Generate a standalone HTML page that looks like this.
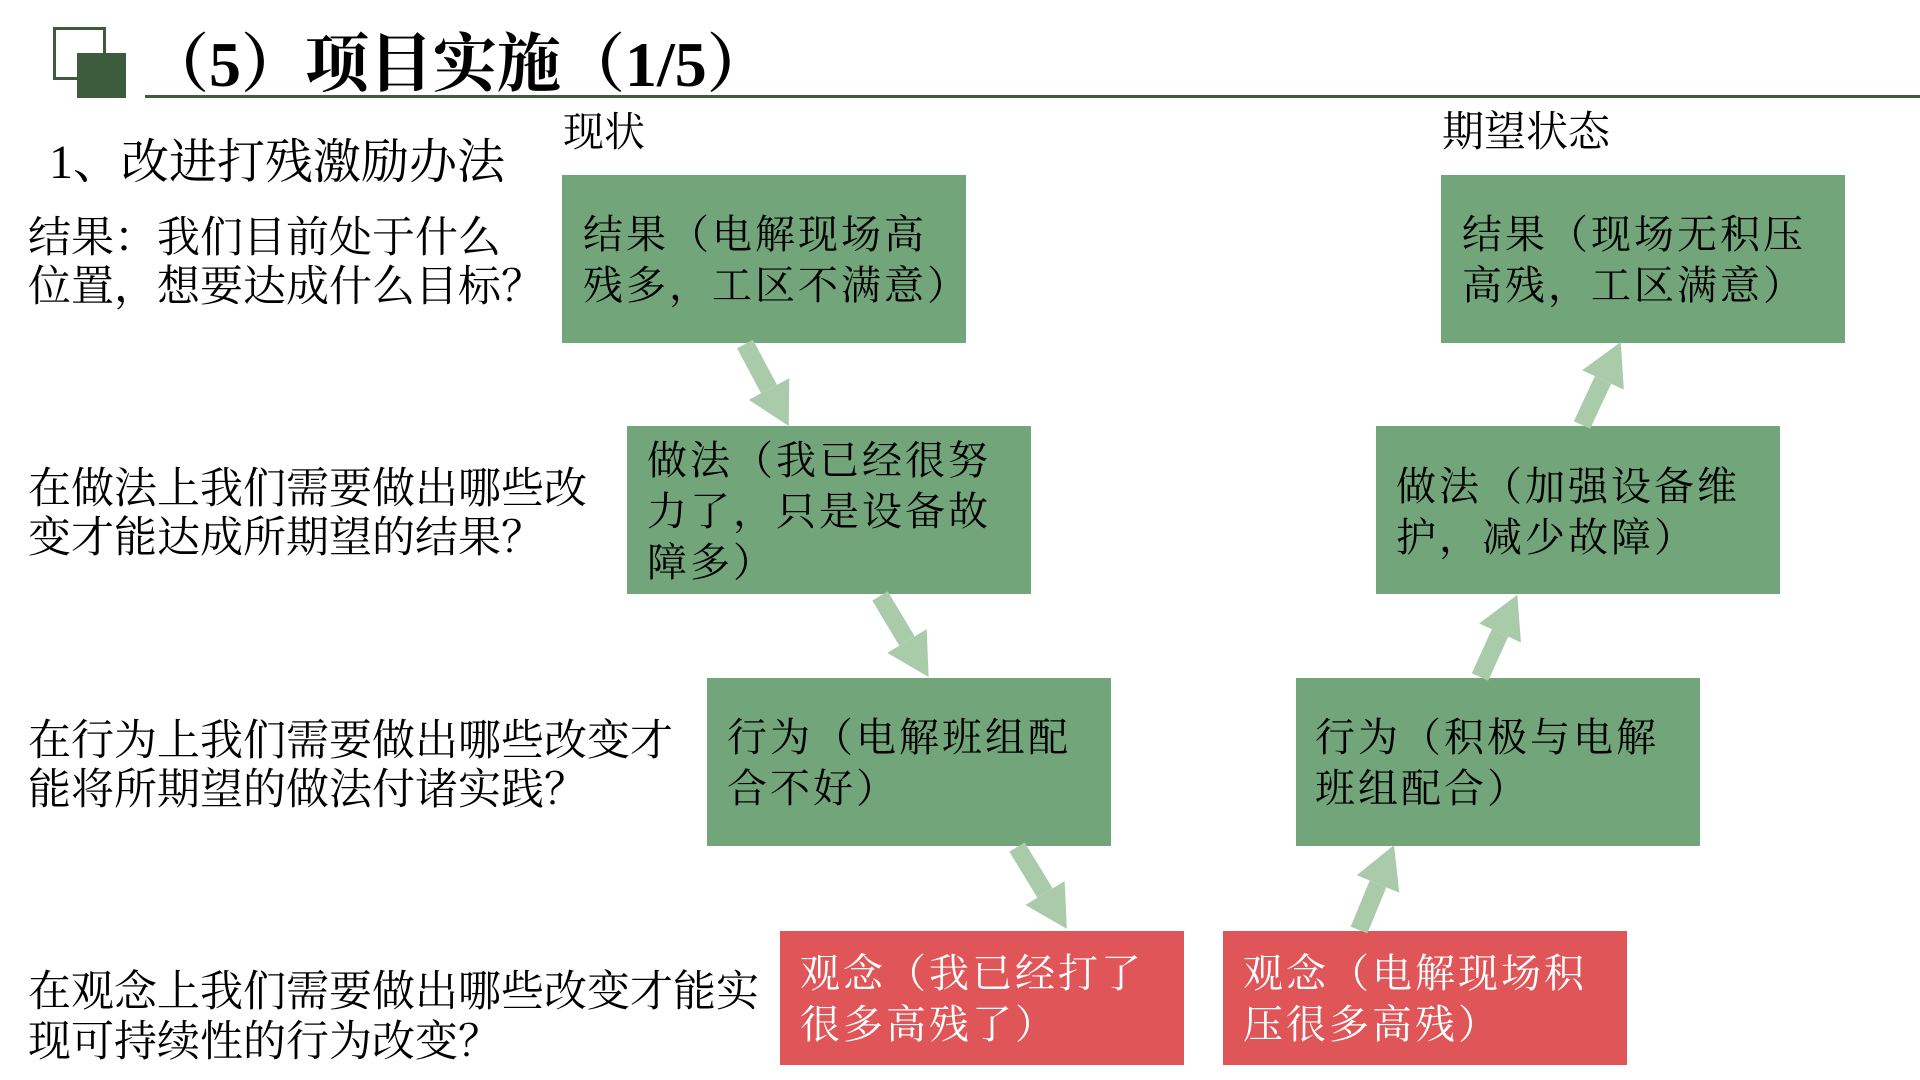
<!DOCTYPE html>
<html><head><meta charset="utf-8"><style>
body{margin:0;width:1920px;height:1080px;background:#fff;position:relative;overflow:hidden;font-family:"Liberation Serif","Noto Serif CJK SC",serif;color:#000}
.t{position:absolute;white-space:nowrap;line-height:1}
.box{position:absolute;width:404px;height:168px;background:#72a57a}
.red{background:#e05557;height:134px}
.bt{position:absolute;font-size:40px;letter-spacing:3px;line-height:51px;white-space:nowrap}
.red .bt{color:#fff}
</style></head><body>
<div style="position:absolute;left:53px;top:27px;width:53px;height:53px;border:3px solid #3d5c3d;box-sizing:border-box"></div>
<div style="position:absolute;left:77px;top:53px;width:49px;height:45px;background:#3d5c3d"></div>
<div class="t" style="left:145px;top:33px;font-size:64px;font-weight:bold">（5）项目实施（1/5）</div>
<div style="position:absolute;left:145px;top:95px;width:1775px;height:3px;background:#3d5c3d"></div>

<div class="t" style="left:49px;top:139px;font-size:48px">1、改进打残激励办法</div>
<div class="t" style="left:563px;top:112px;font-size:41px">现状</div>
<div class="t" style="left:1442px;top:112px;font-size:42px">期望状态</div>

<div class="t" style="left:28px;top:214px;font-size:43px;line-height:49px">结果：我们目前处于什么<br>位置，想要达成什么目标？</div>
<div class="t" style="left:28px;top:465px;font-size:43px;line-height:49px">在做法上我们需要做出哪些改<br>变才能达成所期望的结果？</div>
<div class="t" style="left:28px;top:717px;font-size:43px;line-height:49px">在行为上我们需要做出哪些改变才<br>能将所期望的做法付诸实践？</div>
<div class="t" style="left:28px;top:968px;font-size:43px;line-height:50px">在观念上我们需要做出哪些改变才能实<br>现可持续性的行为改变？</div>

<div class="box" style="left:562px;top:175px"><div class="bt" style="left:21px;top:34px">结果（电解现场高<br>残多，工区不满意）</div></div>
<div class="box" style="left:627px;top:426px"><div class="bt" style="left:20px;top:9px">做法（我已经很努<br>力了，只是设备故<br>障多）</div></div>
<div class="box" style="left:707px;top:678px"><div class="bt" style="left:20px;top:34px">行为（电解班组配<br>合不好）</div></div>
<div class="box red" style="left:780px;top:931px"><div class="bt" style="left:20px;top:17px">观念（我已经打了<br>很多高残了）</div></div>

<div class="box" style="left:1441px;top:175px"><div class="bt" style="left:21px;top:34px">结果（现场无积压<br>高残，工区满意）</div></div>
<div class="box" style="left:1376px;top:426px"><div class="bt" style="left:20px;top:35px">做法（加强设备维<br>护，减少故障）</div></div>
<div class="box" style="left:1296px;top:678px"><div class="bt" style="left:19px;top:34px">行为（积极与电解<br>班组配合）</div></div>
<div class="box red" style="left:1223px;top:931px"><div class="bt" style="left:20px;top:17px">观念（电解现场积<br>压很多高残）</div></div>

<svg width="1920" height="1080" style="position:absolute;left:0;top:0">
<defs><marker id="h" markerUnits="userSpaceOnUse" markerWidth="42" markerHeight="46" refX="0" refY="23" orient="auto" viewBox="0 0 42 46"><path d="M0,0 L42,23 L0,46 z" fill="#a9cbaa"/></marker></defs>
<g stroke="#a9cbaa" stroke-width="18" marker-end="url(#h)">
<line x1="745" y1="344" x2="769" y2="389"/>
<line x1="880" y1="596" x2="907" y2="641"/>
<line x1="1017" y1="847" x2="1045" y2="893"/>
<line x1="1359" y1="930" x2="1378" y2="884"/>
<line x1="1480" y1="677" x2="1500" y2="633"/>
<line x1="1582" y1="425" x2="1603" y2="380"/>
</g>
</svg>
</body></html>
